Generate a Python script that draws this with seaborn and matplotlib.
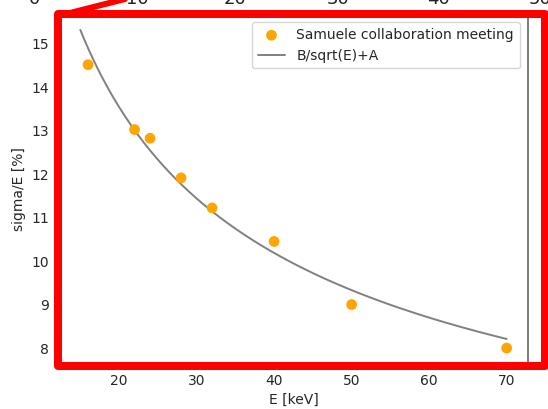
import numpy as np
import pandas as pd
import matplotlib
matplotlib.use("Agg")
import matplotlib.pyplot as plt
import seaborn as sns
from matplotlib.patches import Rectangle
from matplotlib.lines import Line2D

# measured points
energy = [16, 22, 24, 28, 32, 40, 50, 70]
resolution = [14.52, 13.03, 12.83, 11.92, 11.23, 10.46, 9.01, 8.01]

# fit parameters: sigma/E = B/sqrt(E) + A
fit_A = 2.1
fit_B = 51.2
fit_E_min, fit_E_max = 15, 70

top_labels = ["0", "10", "20", "30", "40", "50"]
top_label_x = [35, 137, 235, 338, 438, 540]

sns.set_style("white")
plt.rcParams['font.family'] = ['DejaVu Sans']

W, H = 548, 409
fig = plt.figure(figsize=(W / 100, H / 100), dpi=100)
ax = fig.add_axes([59 / W, 1 - 364 / H, (528 - 59) / W, (364 - 14) / H])

df = pd.DataFrame({"E": energy, "res": resolution})
E_fit = np.linspace(fit_E_min, fit_E_max, 200)
df_fit = pd.DataFrame({"E": E_fit, "res": fit_B / np.sqrt(E_fit) + fit_A})

sns.scatterplot(data=df, x="E", y="res", ax=ax, color="orange", s=60,
                edgecolor="none", label="Samuele collaboration meeting", zorder=3)
sns.lineplot(data=df_fit, x="E", y="res", ax=ax, color="gray", lw=1.4,
             label="B/sqrt(E)+A", zorder=2)

ax.set_xlabel("E [keV]", fontsize=10)
ax.set_ylabel("sigma/E [%]", fontsize=10)
ax.set_xticks([20, 30, 40, 50, 60, 70])
ax.set_yticks([8, 9, 10, 11, 12, 13, 14, 15])
ax.tick_params(labelsize=10, length=3.5, left=True, bottom=True)
for s in ax.spines.values():
    s.set_color("#666666")
    s.set_linewidth(1.2)

leg = ax.legend(loc="upper right", fontsize=10, frameon=True, handlelength=2.0,
                borderaxespad=0.6)
leg.get_frame().set_edgecolor("#cccccc")

# red annotation frame drawn over the screenshot
lw_pt = 8 * 72 / 100
rect = Rectangle((58 / W, 1 - 365.5 / H), (544.5 - 58) / W, (365.5 - 14) / H,
                 transform=fig.transFigure, fill=False, edgecolor="red",
                 linewidth=lw_pt, joinstyle="round", zorder=10)
fig.add_artist(rect)
fig.add_artist(Line2D([66 / W, 125 / W], [1 - 14 / H, 1 + 1 / H],
                      transform=fig.transFigure, color="red",
                      linewidth=6 * 72 / 100, zorder=10))

# partially visible tick labels of a chart above (cut off by the screenshot)
for lab, xp in zip(top_labels, top_label_x):
    fig.text(xp / W, 1 - 4 / H, lab, ha="center", va="baseline", fontsize=13,
             color="#222222")

fig.savefig("out.png", dpi=100)
